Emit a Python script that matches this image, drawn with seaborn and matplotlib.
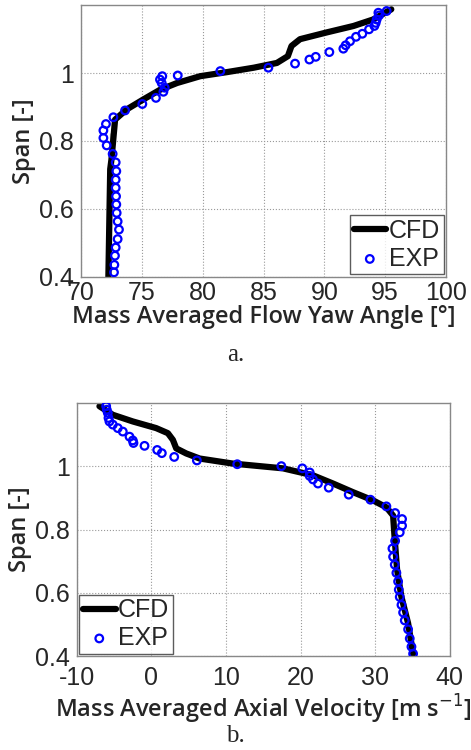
import numpy as np
import pandas as pd
import matplotlib
matplotlib.use('Agg')
import matplotlib.pyplot as plt
import seaborn as sns
from matplotlib.ticker import FormatStrFormatter

sns.set_style('whitegrid')
plt.rcParams['font.family'] = ['Liberation Sans', 'DejaVu Sans']
plt.rcParams['axes.unicode_minus'] = False

# (a) yaw angle vs span
cfd_yaw = [72.25, 72.4, 72.5, 72.4, 72.8, 73.75, 75.1, 76.5, 77.9, 79.8, 82.0,
           84.2, 86.1, 87.0, 87.3, 88.0, 90.2, 92.4, 94.0, 95.5]
cfd_yaw_span = [0.40, 0.61, 0.745, 0.824, 0.863, 0.893, 0.922, 0.951, 0.971, 0.991, 1.003,
                1.016, 1.03, 1.05, 1.08, 1.10, 1.12, 1.139, 1.158, 1.188]
exp_yaw = [72.71, 72.74, 72.79, 72.85, 73.01, 73.12, 73.01, 72.93, 72.90, 72.88, 72.85,
           72.85, 72.90, 72.85, 72.60, 72.11, 71.84, 71.84, 72.05, 72.66, 73.62, 75.04,
           76.16, 76.77, 76.88, 76.63, 76.49, 76.68, 77.95, 81.45, 85.40, 87.59, 88.77,
           89.29, 90.41, 91.56, 91.75, 92.11, 92.60, 93.12, 93.67, 94.11, 94.22, 94.30,
           94.49, 94.44, 95.12]
exp_yaw_span = [0.413, 0.435, 0.462, 0.486, 0.511, 0.539, 0.563, 0.588, 0.613, 0.637, 0.662,
                0.686, 0.711, 0.737, 0.762, 0.787, 0.809, 0.831, 0.850, 0.870, 0.890, 0.909,
                0.927, 0.945, 0.957, 0.971, 0.981, 0.991, 0.993, 1.006, 1.016, 1.028, 1.040,
                1.048, 1.062, 1.072, 1.082, 1.094, 1.107, 1.116, 1.129, 1.139, 1.148, 1.158,
                1.170, 1.178, 1.183]

# (b) axial velocity vs span
cfd_vel = [35.08, 34.41, 33.5, 32.93, 32.6, 32.6, 32.4, 31.5, 29.7, 27.0, 24.35, 21.66,
           17.64, 10.93, 6.46, 4.67, 3.33, 2.88, 2.21, 0.64, -2.49, -5.17, -6.96]
cfd_vel_span = [0.408, 0.504, 0.589, 0.674, 0.748, 0.801, 0.844, 0.870, 0.892, 0.918, 0.945,
                0.971, 0.993, 1.008, 1.024, 1.040, 1.056, 1.083, 1.104, 1.120, 1.141, 1.162,
                1.189]
exp_vel = [35.08, 34.86, 34.63, 34.41, 33.96, 33.74, 33.52, 33.29, 33.16, 33.07, 32.84,
           32.62, 32.40, 32.31, 32.67, 33.29, 33.60, 33.60, 32.67, 31.50, 29.36, 26.45,
           23.77, 22.33, 21.66, 21.22, 21.22, 20.23, 17.42, 11.51, 6.10, 3.06, 1.40, 0.78,
           -0.92, -2.40, -2.49, -2.93, -3.83, -4.50, -5.17, -5.62, -5.75, -5.84, -5.98, -6.06]
exp_vel_span = [0.408, 0.430, 0.456, 0.485, 0.513, 0.538, 0.562, 0.587, 0.610, 0.636, 0.663,
                0.689, 0.714, 0.740, 0.764, 0.791, 0.812, 0.833, 0.852, 0.873, 0.894, 0.910,
                0.932, 0.945, 0.958, 0.969, 0.980, 0.993, 1.000, 1.006, 1.018, 1.029, 1.041,
                1.051, 1.064, 1.073, 1.081, 1.093, 1.109, 1.120, 1.131, 1.141, 1.152, 1.168,
                1.178, 1.189]

fig = plt.figure(figsize=(4.71, 7.5), dpi=100)
ax1 = fig.add_axes([0.172, 0.631, 0.775, 0.362])
ax2 = fig.add_axes([0.163, 0.125, 0.792, 0.338])

label_font = dict(family=['Open Sans', 'DejaVu Sans'], fontsize=17, fontweight='semibold')


def draw(ax, cx, cy, ex, ey, xlim, xticks, xlabel, loc, xpad, lpad):
    sns.lineplot(x=cx, y=cy, sort=False, color='black', lw=4.5, label='CFD', ax=ax)
    sns.scatterplot(x=ex, y=ey, marker='o', s=30, facecolor='none', edgecolor='#0000ff',
                    linewidth=1.6, label='EXP', ax=ax, zorder=3)
    ax.set_xlim(*xlim)
    ax.set_ylim(0.4, 1.2)
    ax.set_xticks(xticks)
    ax.set_yticks([0.4, 0.6, 0.8, 1.0])
    ax.yaxis.set_major_formatter(FormatStrFormatter('%g'))
    ax.tick_params(labelsize=18, length=0)
    ax.tick_params(axis='x', pad=xpad)
    ax.tick_params(axis='y', pad=5)
    ax.grid(True, linestyle=':', color='#999999', lw=0.8)
    for s in ax.spines.values():
        s.set_color('#888888')
        s.set_linewidth(1.0)
    ax.set_xlabel(xlabel, labelpad=lpad, **label_font)
    ax.set_ylabel('Span [-]', labelpad=2, **label_font)
    leg = ax.legend(loc=loc, fontsize=18, frameon=True, fancybox=False, handlelength=1.3,
                    handletextpad=0.1, borderpad=0.15, borderaxespad=0.1, labelspacing=0.15)
    leg.get_frame().set_edgecolor('#333333')
    leg.get_frame().set_linewidth(1.0)


draw(ax1, cfd_yaw, cfd_yaw_span, exp_yaw, exp_yaw_span, (70, 100),
     [70, 75, 80, 85, 90, 95, 100], 'Mass Averaged Flow Yaw Angle [°]', 'lower right', 3, 0)
draw(ax2, cfd_vel, cfd_vel_span, exp_vel, exp_vel_span, (-10, 40),
     [-10, 0, 10, 20, 30, 40], 'Mass Averaged Axial Velocity [m s$^{-1}$]', 'lower left', 7, 2)

fig.text(0.5, 0.527, 'a.', ha='center', va='center', family=['Liberation Serif'], fontsize=18)
fig.text(0.5, 0.018, 'b.', ha='center', va='center', family=['Liberation Serif'], fontsize=18)

fig.savefig('out.png', dpi=100)
